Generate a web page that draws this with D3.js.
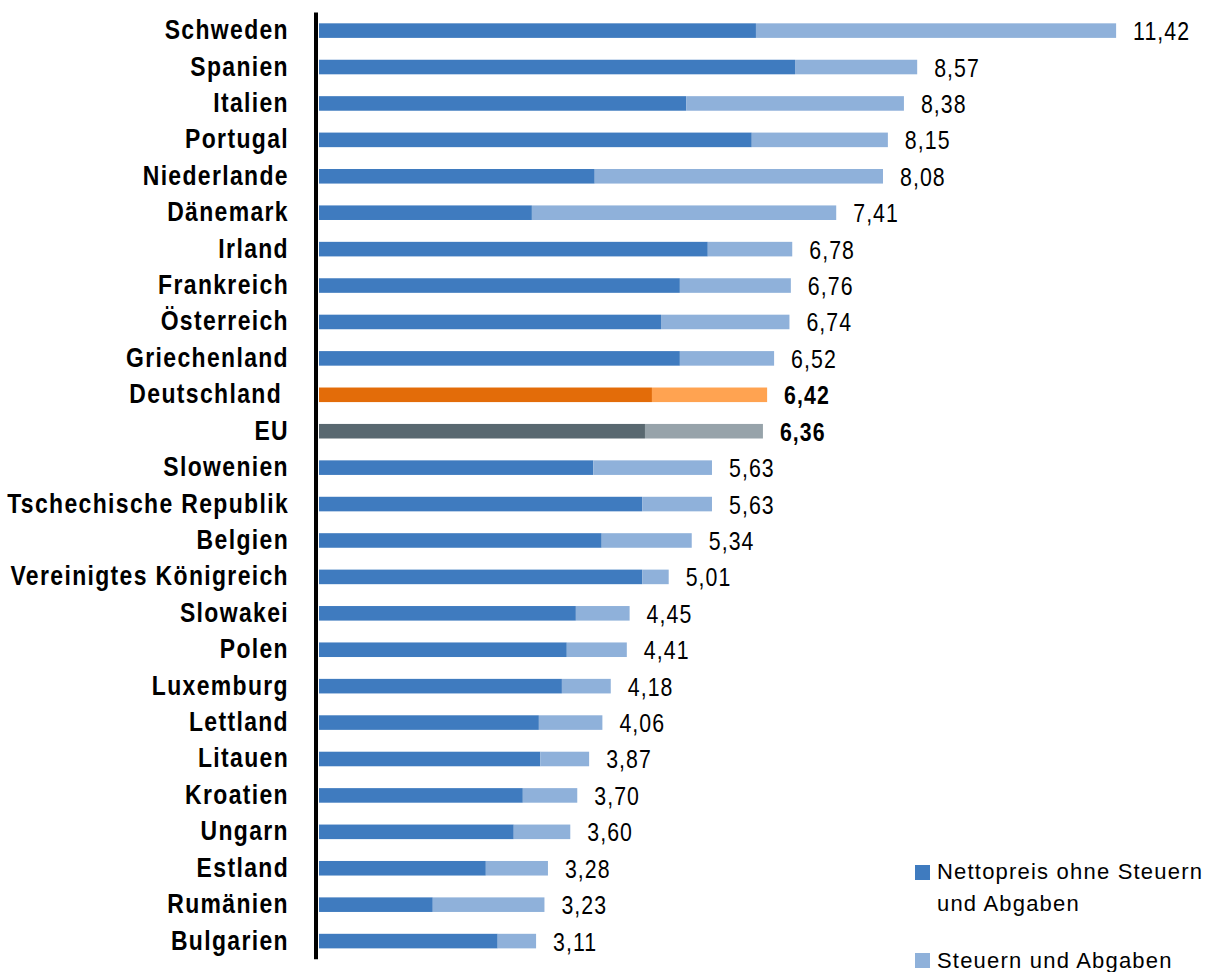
<!DOCTYPE html>
<html><head><meta charset="utf-8">
<script src="https://cdn.jsdelivr.net/npm/d3@7"></script>
<style>
html,body{margin:0;padding:0;background:#fff;}
svg{display:block;}
</style></head>
<body>
<svg id="chart" width="1209" height="972"></svg>
<script>
const countries = ["Schweden","Spanien","Italien","Portugal","Niederlande","Dänemark","Irland","Frankreich","Österreich","Griechenland","Deutschland","EU","Slowenien","Tschechische Republik","Belgien","Vereinigtes Königreich","Slowakei","Polen","Luxemburg","Lettland","Litauen","Kroatien","Ungarn","Estland","Rumänien","Bulgarien"];
const totals = [11.42,8.57,8.38,8.15,8.08,7.41,6.78,6.76,6.74,6.52,6.42,6.36,5.63,5.63,5.34,5.01,4.45,4.41,4.18,4.06,3.87,3.70,3.60,3.28,3.23,3.11];
const net = [6.26,6.82,5.26,6.20,3.95,3.05,5.57,5.17,4.90,5.17,4.77,4.67,3.93,4.63,4.05,4.63,3.68,3.55,3.48,3.15,3.17,2.92,2.79,2.39,1.63,2.56];
const taxes = [5.16,1.75,3.12,1.95,4.13,4.36,1.21,1.59,1.84,1.35,1.65,1.69,1.70,1.00,1.29,0.38,0.77,0.86,0.70,0.91,0.70,0.78,0.81,0.89,1.60,0.55];
const legendLabels = ["Nettopreis ohne Steuern", "und Abgaben", "Steuern und Abgaben"];

const colors = {
  normal: ["#3F7BBF", "#8FB1DA"],
  Deutschland: ["#E36C09", "#FFA351"],
  EU: ["#596870", "#97A3AA"]
};

const svg = d3.select("#chart");
const x = d3.scaleLinear().domain([0, 12]).range([319, 319 + 12 * 69.8]);
const y = d3.scaleBand().domain(countries).range([12.4, 959.3]).paddingInner(0.6).paddingOuter(0.3);

const data = countries.map((c, i) => ({c, net: net[i], tax: taxes[i], total: totals[i]}));
const col = c => colors[c] || colors.normal;

const g = svg.append("g");
g.selectAll("rect.net").data(data).join("rect")
  .attr("class","net")
  .attr("x", x(0)).attr("y", d => y(d.c))
  .attr("width", d => x(d.net) - x(0)).attr("height", y.bandwidth())
  .attr("fill", d => col(d.c)[0]);
g.selectAll("rect.tax").data(data).join("rect")
  .attr("class","tax")
  .attr("x", d => x(d.net)).attr("y", d => y(d.c))
  .attr("width", d => x(d.net + d.tax) - x(d.net)).attr("height", y.bandwidth())
  .attr("fill", d => col(d.c)[1]);

svg.append("line").attr("x1", 316).attr("x2", 316)
  .attr("y1", y.range()[0]).attr("y2", y.range()[1])
  .attr("stroke", "#000").attr("stroke-width", 4);

const fmt = v => d3.format(".2f")(v).replace(".", ",");
const font = "'Liberation Sans', Arial, sans-serif";

svg.selectAll("text.cat").data(data).join("text")
  .attr("class","cat")
  .attr("transform", d => `translate(${d.c === "Deutschland" ? 282 : 289},${y(d.c) + y.bandwidth()/2 + 8.5}) scale(0.85,1)`)
  .attr("text-anchor","end")
  .attr("font-family", font).attr("font-weight","bold")
  .attr("font-size", 27).attr("letter-spacing", 1.6)
  .attr("fill","#000")
  .text(d => d.c);

svg.selectAll("text.val").data(data).join("text")
  .attr("class","val")
  .attr("transform", d => `translate(${x(d.total) + 17},${y(d.c) + y.bandwidth()/2 + 9.5}) scale(0.82,1)`)
  .attr("font-family", font)
  .attr("font-weight", d => (d.c === "Deutschland" || d.c === "EU") ? "bold" : "normal")
  .attr("font-size", 26).attr("letter-spacing", 1.3)
  .attr("fill","#000")
  .text(d => fmt(d.total));

const leg = svg.append("g");
leg.append("rect").attr("x", 915).attr("y", 865).attr("width", 15).attr("height", 15).attr("fill", colors.normal[0]);
leg.append("text").attr("x", 937).attr("y", 879).attr("font-family", font).attr("font-size", 22).attr("letter-spacing", 1.2).text(legendLabels[0]);
leg.append("text").attr("x", 937).attr("y", 911).attr("font-family", font).attr("font-size", 22).attr("letter-spacing", 1.2).text(legendLabels[1]);
leg.append("rect").attr("x", 915).attr("y", 953).attr("width", 15).attr("height", 15).attr("fill", colors.normal[1]);
leg.append("text").attr("x", 937).attr("y", 968).attr("font-family", font).attr("font-size", 22).attr("letter-spacing", 1.2).text(legendLabels[2]);
</script>
</body></html>
